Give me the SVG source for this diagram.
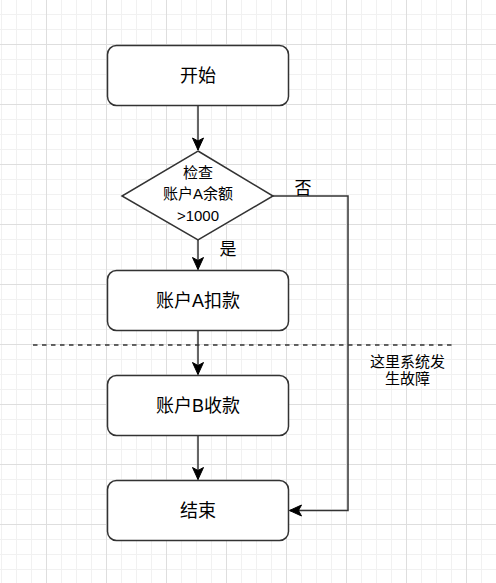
<svg xmlns="http://www.w3.org/2000/svg" width="496" height="583" viewBox="0 0 496 583">
  <style>
    .node { fill: #ffffff; stroke: #333333; stroke-width: 1.5; }
    .edge { fill: none; stroke: #333333; stroke-width: 1.5; }
    .lbl { font-family: "Liberation Sans", "Noto Sans CJK SC", sans-serif; fill: #000000; text-anchor: middle; dominant-baseline: central; }
    .big { font-size: 18px; }
    .small { font-size: 15px; }
  </style>
  <defs>
    <pattern id="minor" x="1" y="14" width="15" height="15" patternUnits="userSpaceOnUse">
      <rect x="0" y="0" width="1" height="15" fill="#f1f1f1"/>
      <rect x="0" y="0" width="15" height="1" fill="#f1f1f1"/>
    </pattern>
    <pattern id="major" x="46" y="44" width="60" height="60" patternUnits="userSpaceOnUse">
      <rect x="0" y="0" width="1" height="60" fill="#dedede"/>
      <rect x="0" y="0" width="60" height="1" fill="#dedede"/>
    </pattern>
    <marker id="arrow" markerUnits="userSpaceOnUse" markerWidth="14" markerHeight="14" viewBox="-13 -7 14 14" refX="0" refY="0" orient="auto">
      <path d="M-12,-5.5 L0,0 L-12,5.5 L-9,0 Z" fill="#000000" stroke="#000000" stroke-width="1"/>
    </marker>
  </defs>
  <rect x="0" y="0" width="496" height="583" fill="#ffffff"/>
  <rect x="0" y="0" width="496" height="583" fill="url(#minor)"/>
  <rect x="0" y="0" width="496" height="583" fill="url(#major)"/>

  <g id="connectors">
    <path class="edge" d="M198,106 L198,150" marker-end="url(#arrow)"/>
    <path class="edge" d="M198,240 L198,269.5" marker-end="url(#arrow)"/>
    <path class="edge" d="M198,330.5 L198,374.5" marker-end="url(#arrow)"/>
    <path class="edge" d="M198,436 L198,479.5" marker-end="url(#arrow)"/>
    <path class="edge" d="M273,196 L348,196 L348,510.5 L289.5,510.5" marker-end="url(#arrow)"/>
    <text class="lbl" x="303" y="188" font-size="17">否</text>
    <text class="lbl" x="228" y="249" font-size="17">是</text>
  </g>

  <g id="divider">
    <line x1="33" y1="345" x2="452" y2="345" stroke="#333333" stroke-width="1.5" stroke-dasharray="4.5 4.5"/>
    <text class="lbl small" x="407.5" y="361">这里系统发</text>
    <text class="lbl small" x="407.5" y="378">生故障</text>
  </g>

  <g id="start">
    <rect class="node" x="107.5" y="45.5" width="181" height="60" rx="9" ry="9"/>
    <text class="lbl big" x="198" y="75.5">开始</text>
  </g>

  <g id="check">
    <path class="node" d="M198,151 L273,196 L198,240 L122,196 Z"/>
    <text class="lbl small" x="198" y="172">检查</text>
    <text class="lbl small" x="198" y="193.5">账户A余额</text>
    <text class="lbl small" x="198" y="215">&gt;1000</text>
  </g>

  <g id="debitA">
    <rect class="node" x="107.5" y="270.5" width="181" height="60" rx="9" ry="9"/>
    <text class="lbl big" x="198" y="300.5">账户A扣款</text>
  </g>

  <g id="creditB">
    <rect class="node" x="107.5" y="375.5" width="181" height="60" rx="9" ry="9"/>
    <text class="lbl big" x="198" y="405.5">账户B收款</text>
  </g>

  <g id="end">
    <rect class="node" x="107.5" y="480.5" width="181" height="60" rx="9" ry="9"/>
    <text class="lbl big" x="198" y="510.5">结束</text>
  </g>
</svg>
